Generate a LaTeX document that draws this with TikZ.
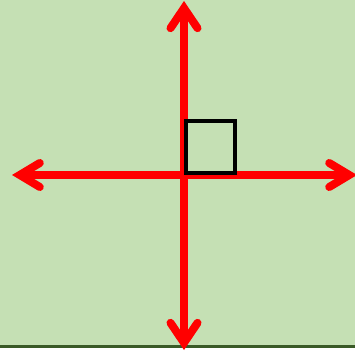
\documentclass[tikz,border=0pt]{standalone}
\usetikzlibrary{arrows.meta}
\definecolor{meadow}{HTML}{C5E0B4}
\definecolor{meadowedge}{HTML}{3A5A27}
\begin{document}
\begin{tikzpicture}[
    x=1pt, y=-1pt,
    axis/.style={draw=red, line width=8pt,
        {Straight Barb[length=20pt, width=#1, line cap=round, line join=miter]}-{Straight Barb[length=20pt, width=#1, line cap=round, line join=miter]}},
    anglebox/.style={draw=black, line width=4pt},
]
\useasboundingbox (0,0) rectangle (355,352);

% Background panel
\fill[meadow] (0,0) rectangle (355,347);
\draw[meadowedge, line width=3pt] (0,346.5) -- (355,346.5);

% Axis ends
\coordinate (north) at (184,1);
\coordinate (south) at (184,350);
\coordinate (west) at (12,175);
\coordinate (east) at (357,175);

\draw[axis=24pt] (west) -- (east);
\draw[axis=27pt] (north) -- (south);

% Right-angle mark
\draw[anglebox] (186,121.3) rectangle (234.7,173);

\end{tikzpicture}
\end{document}
